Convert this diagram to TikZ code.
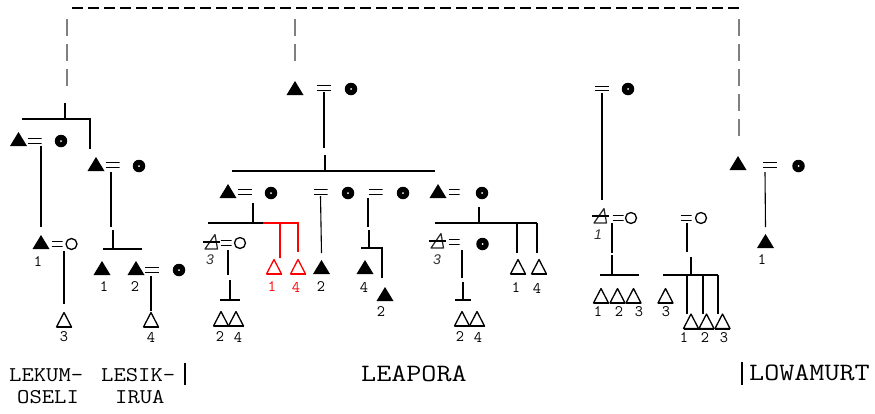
\documentclass[tikz,border=0pt]{standalone}
\usepackage{fontspec}
\usepackage{graphicx}
\newfontfamily\lsans{Liberation Sans}
\newcommand\wideA[1]{\scalebox{1.14}[1]{#1}}
\newcommand\wideB[1]{\scalebox{1.17}[1]{#1}}
\tikzset{
  sym/.style={inner sep=0pt, outer sep=0pt},
  mfill/.style={sym, minimum width=17pt, minimum height=14pt,
    path picture={\fill (path picture bounding box.south west) -- (path picture bounding box.south east) -- (path picture bounding box.north) -- cycle;}},
  mopen/.style={sym, minimum width=18pt, minimum height=18pt,
    path picture={\draw[#1, line width=1.3pt, line join=round] ([shift={(-7.5pt,-7pt)}]path picture bounding box.center) -- ([shift={(7.5pt,-7pt)}]path picture bounding box.center) -- ([shift={(0pt,7.5pt)}]path picture bounding box.center) -- cycle;
      \draw[#1, line width=2pt] ([shift={(-7.5pt,-7pt)}]path picture bounding box.center) -- ([shift={(7.5pt,-7pt)}]path picture bounding box.center);}},
  mopen/.default=black,
  struck/.style={sym, minimum width=20pt, minimum height=18pt,
    path picture={\draw[line width=1.2pt, line join=round, black!85] ([shift={(-7pt,-7pt)}]path picture bounding box.center) -- ([shift={(5.5pt,-7pt)}]path picture bounding box.center) -- ([shift={(3pt,7.5pt)}]path picture bounding box.center) -- cycle;
      \draw[line width=1.4pt] ([shift={(-9pt,0pt)}]path picture bounding box.center) -- ([shift={(7.5pt,0pt)}]path picture bounding box.center);}},
  fdot/.style={circle, fill=black, minimum size=12.5pt, inner sep=0pt,
    path picture={\fill[white] (path picture bounding box.center) circle (1pt);}},
  fopen/.style={circle, draw, line width=1.3pt, minimum size=11pt, inner sep=0pt},
  eq/.style={sym, minimum width=14pt, minimum height=8pt,
    path picture={\draw[line width=1.3pt] ([yshift=2.2pt]path picture bounding box.west) -- ([yshift=2.2pt]path picture bounding box.east) ([yshift=-2.2pt]path picture bounding box.west) -- ([yshift=-2.2pt]path picture bounding box.east);}},
  eqs/.style={eq, minimum width=11pt},
  kin/.style={line width=1.1pt, black},
  redkin/.style={line width=1.1pt, red},
  bar/.style={line width=1.8pt, black},
  vdash/.style={line width=1.1pt, black!50, dash pattern=on 17pt off 8pt},
  tdash/.style={line width=1.3pt, black, dash pattern=on 11pt off 5pt},
  lab/.style={font=\fontsize{16}{16}\selectfont\ttfamily, inner sep=0pt},
  ilab/.style={font=\fontsize{14}{14}\lsans\itshape, inner sep=0pt, text=black!80},
  btxt/.style={font=\fontsize{21}{21}\selectfont\ttfamily, inner sep=0pt, anchor=west},
  bbig/.style={font=\fontsize{25}{25}\selectfont\ttfamily, inner sep=0pt, anchor=west}
}
\begin{document}
\begin{tikzpicture}[x=1pt,y=-1pt]
\useasboundingbox[fill=white] (0,0) rectangle (875,413);

% ---------- top dashed frame ----------
\coordinate (tL) at (72,8);
\coordinate (tR) at (739,8);
\draw[tdash] (tL) -- (tR);
\coordinate (dL) at (67,19); \coordinate (dLe) at (67,88);
\coordinate (dM) at (295,19); \coordinate (dMe) at (295,62);
\coordinate (dR) at (739,19); \coordinate (dRe) at (739,140);
\draw[vdash] (dL) -- (dLe);
\draw[vdash] (dM) -- (dMe);
\draw[vdash] (dR) -- (dRe);

% ---------- LEKUMOSELI / LESIKIRUA ----------
\node[mfill] (mA) at (18.5,139) {};
\node[eq] (eqA) at (34.5,141) {};
\node[fdot] (fA) at (61,141) {};
\node[mfill] (mB) at (96,164) {};
\node[eq] (eqB) at (112.5,165) {};
\node[fdot] (fB) at (139,166) {};
\node[mfill] (mA1) at (41,242) {};
\node[eqs] (eqA1) at (57,244) {};
\node[fopen] (fA1) at (71.5,244) {};
\node[lab] (lA1) at (38,262) {1};
\node[mopen] (dA3) at (64,320) {};
\node[lab] (lA3) at (64,337) {3};
\node[mfill] (mB1) at (102,268) {};
\node[lab] (lB1) at (104,287) {1};
\node[mfill] (mB2) at (136,268) {};
\node[eq] (eqB2) at (152,270) {};
\node[fdot] (fB2) at (179,270) {};
\node[lab] (lB2) at (135,287) {2};
\node[mopen] (dB4) at (151,320) {};
\node[lab] (lB4) at (151,337) {4};

\coordinate (jL) at (65,119); \coordinate (jLt) at (65,103);
\coordinate (sLa) at (22,119); \coordinate (sLb) at (90,119); \coordinate (sLc) at (90,149);
\draw[kin] (sLa) -- (sLb) -- (sLc);
\draw[kin] (jL) -- (jLt);
\draw[bar] ([xshift=-8pt]jL) -- ([xshift=8pt]jL);
\coordinate (vA) at (41,146); \coordinate (vAe) at (41,227);
\draw[kin] (vA) -- (vAe);
\coordinate (vA1) at (64,251); \coordinate (vA1e) at (64,304);
\draw[kin] (vA1) -- (vA1e);
\coordinate (vB) at (111,172); \coordinate (vBe) at (111,227);
\draw[kin] (vB) -- (vBe);
\coordinate (jB) at (113,249); \coordinate (jBt) at (113,230);
\coordinate (sBa) at (103,249); \coordinate (sBb) at (142,249);
\draw[kin] (sBa) -- (sBb);
\draw[kin] (jB) -- (jBt);
\draw[bar] ([xshift=-10pt]jB) -- ([xshift=10pt]jB);
\coordinate (vB2) at (151,276);
\draw[kin] (vB2) -- (vB2 |- dB4.north);

% ---------- LEAPORA ----------
\node[mfill] (mC) at (295,88) {};
\node[eq] (eqC) at (324,88) {};
\node[fdot] (fC) at (351,89) {};
\coordinate (vC) at (324,148);
\draw[kin] (eqC.south) -- (vC);
\coordinate (jC) at (325,171); \coordinate (jCt) at (325,155);
\draw[kin] (jC) -- (jCt);
\draw[bar] ([xshift=-8pt]jC) -- ([xshift=8pt]jC);
\coordinate (sCa) at (232,171); \coordinate (sCb) at (435,171);
\draw[kin] (sCa) -- (sCb);

\node[mfill] (mD) at (228,191) {};
\node[eq] (eqD) at (245,192) {};
\node[fdot] (fD) at (271,193) {};
\node[eq] (eqE) at (320.5,192) {};
\node[fdot] (fE) at (348,193) {};
\node[eq] (eqF) at (375.5,192) {};
\node[fdot] (fF) at (403,193) {};
\node[mfill] (mG) at (438,191) {};
\node[eqs] (eqG) at (454,192) {};
\node[fdot] (fG) at (482,193) {};

% under D
\coordinate (jD) at (253,223); \coordinate (jDt) at (253,203);
\draw[kin] (jD) -- (jDt);
\draw[bar] ([xshift=-10pt]jD) -- ([xshift=10pt]jD);
\coordinate (sDa) at (208,223); \coordinate (sDb) at (263,223);
\draw[kin] (sDa) -- (sDb);
\coordinate (rA) at (280,223); \coordinate (rB) at (298,223);
\node[mopen=red] (dR1) at (274,267) {};
\node[mopen=red] (dR4) at (298,267) {};
\node[lab, text=red] (lR1) at (272,287) {1};
\node[lab, text=red] (lR4) at (296,287) {4};
\draw[redkin] (sDb) -- (rB) -- ([yshift=6pt]dR4.north);
\draw[redkin] (rA) -- (rA |- dR4.north) -- ++(0,-6);

\node[struck] (sD3) at (212,242) {};
\node[eqs] (eqD3) at (226,243) {};
\node[fopen] (fD3) at (240,243) {};
\node[ilab] (lD3) at (210,260) {3};
\coordinate (vD3) at (228,250); \coordinate (vD3e) at (228,275);
\draw[kin] (vD3) -- (vD3e);
\coordinate (jD3) at (230,300); \coordinate (jD3t) at (230,280);
\draw[kin] (jD3) -- (jD3t);
\draw[bar] ([xshift=-10pt]jD3) -- ([xshift=10pt]jD3);
\node[mopen] (dD2) at (221,319) {};
\node[mopen] (dD4) at (236,319) {};
\node[lab] (lD2) at (220,337) {2};
\node[lab] (lD4) at (238,337) {4};

% under E
\node[mfill] (mE2) at (321.5,267) {};
\node[lab] (lE2) at (321,287) {2};
\draw[kin] (eqE.south) -- ([yshift=7pt]mE2.north);

% under F
\coordinate (vF) at (368,198); \coordinate (vFe) at (368,227);
\draw[kin] (vF) -- (vFe);
\coordinate (jF) at (369,248); \coordinate (jFt) at (369,230);
\draw[kin] (jF) -- (jFt);
\draw[bar] ([xshift=-8pt]jF) -- ([xshift=8pt]jF);
\coordinate (sFa) at (361,248); \coordinate (sFb) at (382,248); \coordinate (sFc) at (382,278);
\draw[kin] (sFa) -- (sFb) -- (sFc);
\node[mfill] (mF4) at (365,267) {};
\node[lab] (lF4) at (364,287) {4};
\node[mfill] (mF2) at (385,294) {};
\node[lab] (lF2) at (381,312) {2};

% under G
\coordinate (jG) at (479,223); \coordinate (jGt) at (479,207);
\draw[kin] (jG) -- (jGt);
\draw[bar] ([xshift=-8pt]jG) -- ([xshift=8pt]jG);
\coordinate (sGa) at (435,223); \coordinate (sGb) at (537,223);
\draw[kin] (sGa) -- (sGb);
\node[mopen] (dG1) at (518,267) {};
\node[mopen] (dG4) at (539,267) {};
\node[lab] (lG1) at (516,288) {1};
\node[lab] (lG4) at (537,288) {4};
\coordinate (gA) at (517,223); \coordinate (gAe) at (517,253);
\draw[kin] (gA) -- (gAe);
\draw[kin] (sGb) -- (sGb |- gAe);

\node[struck] (sG3) at (438,241) {};
\node[eqs] (eqG3) at (454,242) {};
\node[fdot] (fG3) at (482.5,244) {};
\node[ilab] (lG3) at (437,260) {3};
\coordinate (vG3) at (462,250); \coordinate (vG3e) at (462,278);
\draw[kin] (vG3) -- (vG3e);
\coordinate (jG3) at (463,300); \coordinate (jG3t) at (463,282);
\draw[kin] (jG3) -- (jG3t);
\draw[bar] ([xshift=-8pt]jG3) -- ([xshift=8pt]jG3);
\node[mopen] (dG2) at (462,319) {};
\node[mopen] (dG4b) at (477,319) {};
\node[lab] (lG2) at (460,337) {2};
\node[lab] (lG4b) at (478,337) {4};

% ---------- middle-right group ----------
\node[eq] (eqH) at (602,88.5) {};
\node[fdot] (fH) at (628,89) {};
\node[struck] (sH1) at (601,216) {};
\node[eqs] (eqH1) at (618,218) {};
\node[fopen] (fH1) at (631,218) {};
\node[ilab] (lH1) at (598,235) {1};
\coordinate (vHe) at (602,200);
\draw[kin] (eqH.south) -- (vHe);
\coordinate (vH1) at (612,223); \coordinate (vH1e) at (612,253);
\draw[kin] (vH1) -- (vH1e);
\coordinate (jH) at (612,275); \coordinate (jHt) at (612,255);
\draw[kin] (jH) -- (jHt);
\draw[bar] (jH) -- ++(-12,0) coordinate (jHl);
\draw[bar] (jH) -- ++(8,0);
\coordinate (sHb) at (639,275);
\draw[kin] (jHl) -- (sHb);
\node[mopen] (dH1) at (601,296) {};
\node[mopen] (dH2) at (617.5,296) {};
\node[mopen] (dH3) at (633.5,296) {};
\node[lab] (lH1b) at (598,312) {1};
\node[lab] (lH2) at (619,312) {2};
\node[lab] (lH3) at (639,312) {3};
\node[mopen] (dH3b) at (665.5,296) {};
\node[lab] (lH3b) at (666,312) {3};

\node[eqs] (eqI) at (686,218) {};
\node[fopen] (fI) at (701,218) {};
\coordinate (vI) at (687,223); \coordinate (vIe) at (687,252);
\draw[kin] (vI) -- (vIe);
\coordinate (jI) at (691,275); \coordinate (jIt) at (691,257);
\draw[kin] (jI) -- (jIt);
\draw[bar] ([xshift=-9pt]jI) -- ([xshift=9pt]jI);
\coordinate (sIa) at (663,275); \coordinate (sIb) at (718,275);
\draw[kin] (sIa) -- (sIb);
\node[mopen] (dI1) at (691,321.5) {};
\node[mopen] (dI2) at (706.5,321.5) {};
\node[mopen] (dI3) at (722.5,321.5) {};
\coordinate (iA) at (687,275); \coordinate (iB) at (703,275);
\draw[kin] (iA) -- ++(0,39);
\draw[kin] (iB) -- ++(0,39);
\draw[kin] (sIb) -- ++(0,39);
\node[lab] (lI1) at (684,338) {1};
\node[lab] (lI2) at (705,338) {2};
\node[lab] (lI3) at (724,338) {3};

% ---------- LOWAMURT ----------
\node[mfill] (mJ) at (738,163) {};
\node[eq] (eqJ) at (770,165) {};
\node[fdot] (fJ) at (798.5,166) {};
\node[mfill] (mJ1) at (765.5,241) {};
\node[lab] (lJ1) at (762,260) {1};
\coordinate (vJ) at (765,172);
\draw[kin] (vJ) -- ([yshift=7pt]mJ1.north);

% ---------- bottom names ----------
\node[btxt] (nLek) at (9,375) {\wideA{LEKUM-}};
\node[btxt] (nOse) at (17,397) {\wideA{OSELI}};
\node[btxt] (nLes) at (101,375) {\wideA{LESIK-}};
\node[btxt] (nIru) at (115,397) {\wideA{IRUA}};
\node[bbig] (nLea) at (361,374) {\wideB{LEAPORA}};
\node[bbig] (nLow) at (749,373) {\wideB{LOWAMURT}};
\coordinate (b1) at (185,363); \coordinate (b1e) at (185,385);
\coordinate (b2) at (742,362); \coordinate (b2e) at (742,385);
\draw[kin] (b1) -- (b1e);
\draw[kin] (b2) -- (b2e);
\end{tikzpicture}
\end{document}
